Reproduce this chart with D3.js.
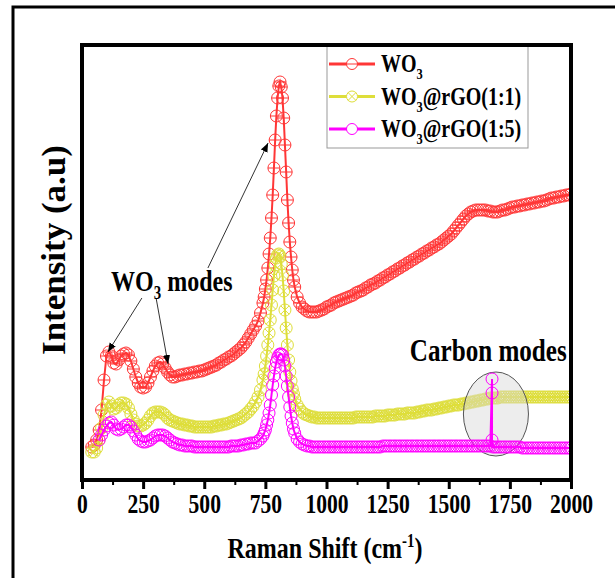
<!DOCTYPE html>
<html><head><meta charset="utf-8">
<script src="https://cdn.jsdelivr.net/npm/d3@7"></script>
<style>html,body{margin:0;padding:0;background:#fff;} svg{display:block}</style>
</head><body><svg id="chart" width="615" height="578"></svg>
<script>
// ---------------- DATA ----------------
const shift = [
  40,50,60,70,80,90,100,110,120,130,140,150,160,170,180,190,200,210,220,230,240,250,260,270,280,290,300,310,320,330,340,350,360,370,380,390,400,
  410,420,430,440,450,460,470,480,490,500,510,520,530,540,550,560,570,580,590,600,610,620,630,640,650,660,670,680,690,700,
  710,720,730,
  740,745,750,755,760,765,770,775,780,785,790,795,800,805,810,815,820,825,830,835,840,845,850,855,860,865,870,
  880,890,900,910,920,930,940,
  950,960,970,980,990,1000,1010,1020,1030,1040,
  1050,1060,1070,1080,1090,1100,1110,1120,1130,1140,
  1150,1160,1170,1180,1190,1200,1210,1220,1230,1240,
  1250,1260,1270,1280,1290,1300,1310,1320,1330,1340,
  1350,1360,1370,1380,1390,1400,1410,1420,1430,1440,
  1450,1460,1470,1480,1490,1500,1510,1520,1530,1540,
  1550,1560,1570,1580,1590,1600,1610,1620,1630,1640,
  1650,1660,1670,1680,1690,1700,1710,1720,1730,1740,
  1750,1760,1770,1780,1790,1800,1810,1820,1830,1840,
  1850,1860,1870,1880,1890,1900,1910,1920,1930,1940,
  1950,1960,1970,1980,1990,2000
];
const wo3 = [
  33,35,40,50,70,100,124,128,124,117,116,120,124,126,127,125,119,111,103,97,93,92,93,97,103,109,114,117,118,116,112,108,105,103,103,104,105,
  105,106,106,107,107,108,108,109,109,110,111,112,113,114,115,117,118,120,121,123,124,126,128,130,132,135,138,142,146,150,
  154,159,167,
  177,183,191,200,212,226,242,262,285,312,340,364,382,394,398,393,382,362,335,308,280,257,238,223,210,200,193,
  183,177,173,171,169,168,168,
  168,168,169,170,171,173,174,175,177,178,
  179,180,181,182,183,184,185,187,188,189,
  190,192,193,195,196,197,199,200,202,203,
  205,206,208,209,211,212,214,215,217,218,
  220,221,223,224,226,227,229,230,232,233,
  235,236,238,240,242,244,246,249,252,255,
  258,261,264,266,268,269,270,270,270,270,
  270,269,269,268,268,268,269,270,270,271,
  272,273,273,274,274,275,275,276,276,277,
  277,278,278,279,279,280,281,282,282,283,
  283,284,284,285,285,286
];
const rgo11 = [
  28,28,32,40,52,65,75,78,74,71,72,75,77,77,76,72,66,60,56,54,54,55,57,60,64,67,68,68,68,67,65,62,60,59,58,57,56,
  56,55,55,54,54,53,53,53,53,53,53,53,53,54,54,55,55,56,56,57,58,59,60,61,62,64,66,68,71,74,
  78,83,90,
  100,106,114,124,135,147,160,175,190,204,215,222,225,226,224,216,205,189,170,152,135,120,108,99,91,86,81,
  75,71,68,66,65,64,63,
  63,62,62,62,62,62,62,62,62,62,
  62,62,62,62,62,62,62,63,63,63,
  63,63,63,63,63,64,64,64,64,64,
  65,65,65,65,66,66,66,66,67,67,
  67,67,68,68,69,69,70,70,70,71,
  71,72,72,73,73,74,74,75,75,75,
  76,76,77,77,78,78,79,79,80,80,
  81,81,82,82,82,82,83,83,83,83,
  83,83,83,83,83,83,83,83,83,83,
  83,83,83,83,83,83,83,83,83,83,
  83,83,83,83,83,83
];
const rgo15 = [
  null,null,null,40,45,50,54,57,58,55,51,50,51,53,55,55,53,49,45,41,39,38,38,39,40,42,44,45,45,45,44,42,40,38,37,36,35,
  35,34,34,34,34,33,33,33,33,33,33,33,33,33,33,33,33,33,33,33,34,34,34,34,35,35,36,36,37,37,
  37,39,41,
  44,47,50,55,60,67,75,85,95,104,112,118,122,125,126,126,125,120,114,104,94,83,73,64,57,51,47,
  41,38,36,35,34,34,33,
  33,33,33,33,33,33,33,33,33,33,
  33,33,33,33,33,33,33,33,33,33,
  33,33,33,33,33,33,33,33,34,34,
  34,34,34,34,34,34,34,34,34,34,
  34,34,34,34,34,34,34,34,34,34,
  34,34,34,34,34,34,34,34,34,34,
  34,34,34,34,34,34,34,34,34,34,
  34,34,34,33,33,33,33,33,33,33,
  33,33,33,33,33,32,32,32,32,32,
  32,32,32,32,32,32,32,32,32,32,
  32,32,32,32,32,32
];
// carbon-mode spike of WO3@rGO(1:5)
const spikeShift = [1677,1677,1677];
const spikeValues = [101,87,40];

const seriesNames = ["WO3","WO3@rGO(1:1)","WO3@rGO(1:5)"];
const xTicks = [0,250,500,750,1000,1250,1500,1750,2000];
const xMinorTicks = [125,375,625,875,1125,1375,1625,1875];

// ---------------- LAYOUT ----------------
const FONT = "'Liberation Serif','Times New Roman',Times,serif";
const K = 0.8; // horizontal text compression
const colors = {red:"#ff3636", yellow:"#dede3a", magenta:"#ff00ff"};
const svg = d3.select("#chart");
const x = d3.scaleLinear().domain([0,2000]).range([82,571]);
const y = d3.scaleLinear().domain([0,435]).range([480,45]);

// outer frame
svg.append("rect").attr("x",13).attr("y",7).attr("width",700).attr("height",700)
  .attr("fill","none").attr("stroke","#000").attr("stroke-width",3);

const defs = svg.append("defs");
defs.append("clipPath").attr("id","plotclip")
  .append("rect").attr("x",82).attr("y",45).attr("width",489).attr("height",435);
defs.append("marker").attr("id","arrow").attr("viewBox","0 0 10 10").attr("refX",10).attr("refY",5)
  .attr("markerWidth",9).attr("markerHeight",9).attr("markerUnits","userSpaceOnUse").attr("orient","auto")
  .append("path").attr("d","M0,1 L10,5 L0,9 Z").attr("fill","#000");

function richText(parent, px, py, size, anchor, parts, rot, k) {
  const kk = k == null ? K : k;
  const t = parent.append("text")
    .attr("transform", `translate(${px},${py}) scale(${kk},1)` + (rot ? ` rotate(${rot})` : ""))
    .attr("text-anchor", anchor)
    .attr("font-family", FONT).attr("font-weight","bold").attr("font-size", size).attr("fill","#000");
  let cur = 0;
  parts.forEach(p => {
    const [str, kind] = Array.isArray(p) ? p : [p, null];
    const target = kind==='sub' ? size*0.28 : kind==='sup' ? -size*0.38 : 0;
    const ts = t.append("tspan").text(str).attr("dy", target - cur);
    if (kind) ts.attr("font-size", size*0.62);
    cur = target;
  });
  return t;
}

function drawMarker(g, kind, color, r, fill) {
  g.append("circle").attr("r", r).attr("fill", fill).attr("stroke", color).attr("stroke-width",1);
  if (kind === "bar") {
    g.append("line").attr("x1",-r).attr("x2",r).attr("stroke",color).attr("stroke-width",1);
  } else if (kind === "cross") {
    const a = r*0.707;
    g.append("line").attr("x1",-a).attr("y1",-a).attr("x2",a).attr("y2",a).attr("stroke",color).attr("stroke-width",1);
    g.append("line").attr("x1",-a).attr("y1",a).attr("x2",a).attr("y2",-a).attr("stroke",color).attr("stroke-width",1);
  }
}

function build(vals) {
  return shift.map((s,i)=>({s, v: vals[i]})).filter(d => d.v != null);
}
const redData = build(wo3);
const yellowData = build(rgo11);
const magBase = build(rgo15);
const spike = spikeShift.map((s,i)=>({s, v: spikeValues[i]}));
const magData = magBase.filter(d=>d.s<=spikeShift[0]).concat(spike, magBase.filter(d=>d.s>spikeShift[0]));

const line = d3.line().x(d=>x(d.s)).y(d=>y(d.v));
const plot = svg.append("g").attr("clip-path","url(#plotclip)");

function drawSeries(data, color, kind) {
  const g = plot.append("g");
  g.append("path").datum(data).attr("d", line).attr("fill","none").attr("stroke", color).attr("stroke-width",2);
  g.selectAll("g.m").data(data).enter().append("g").attr("class","m")
    .attr("transform", d=>`translate(${x(d.s)},${y(d.v)})`)
    .each(function(){ drawMarker(d3.select(this), kind, color, 6, "none"); });
}
drawSeries(redData, colors.red, "bar");
drawSeries(yellowData, colors.yellow, "cross");

// carbon-modes ellipse
const ell = {s:1693, v:66, rs:133, rv:42};
plot.append("ellipse").attr("cx", x(ell.s)).attr("cy", y(ell.v))
  .attr("rx", x(ell.s+ell.rs)-x(ell.s)).attr("ry", y(ell.v)-y(ell.v+ell.rv))
  .attr("fill","rgba(215,215,215,0.45)").attr("stroke","#555").attr("stroke-width",1);

drawSeries(magData, colors.magenta, "plain");

// arrows
const arrows = [[245,182,106,128],[303,182,352,116],[515,212,761,337]];
svg.selectAll("line.arr").data(arrows).enter().append("line").attr("class","arr")
  .attr("x1",d=>x(d[0])).attr("y1",d=>y(d[1])).attr("x2",d=>x(d[2])).attr("y2",d=>y(d[3]))
  .attr("stroke","#333").attr("stroke-width",1).attr("marker-end","url(#arrow)");

// annotations
richText(svg, x(119), y(189), 30, "start", ["WO",["3","sub"]," modes"]);
richText(svg, x(1341), y(119), 31, "start", ["Carbon modes"], null, 0.81);

// legend
svg.append("rect").attr("x",327).attr("y",45).attr("width",201).attr("height",103)
  .attr("fill","#fff").attr("stroke","#999").attr("stroke-width",1);
const legItems = [
  {name:seriesNames[0], color:colors.red, kind:"bar", parts:["WO",["3","sub"]]},
  {name:seriesNames[1], color:colors.yellow, kind:"cross", parts:["WO",["3","sub"],"@rGO(1:1)"]},
  {name:seriesNames[2], color:colors.magenta, kind:"plain", parts:["WO",["3","sub"],"@rGO(1:5)"]}
];
legItems.forEach((it,i)=>{
  const cy = 64 + i*32.5;
  svg.append("line").attr("x1",329).attr("x2",375).attr("y1",cy).attr("y2",cy)
    .attr("stroke",it.color).attr("stroke-width",3);
  const mg = svg.append("g").attr("transform",`translate(352,${cy})`);
  drawMarker(mg, it.kind, it.color, 5.5, "#fff");
  richText(svg, 381, cy+8, 25, "start", it.parts);
});

// plot frame
svg.append("rect").attr("x",82).attr("y",45).attr("width",489).attr("height",435)
  .attr("fill","none").attr("stroke","#000").attr("stroke-width",4);

// x axis
const gx = svg.append("g").attr("transform",`translate(0,${y(0)})`)
  .call(d3.axisBottom(x).tickValues(xTicks).tickSize(9).tickFormat(d3.format("d")));
gx.select(".domain").remove();
gx.selectAll(".tick line").attr("stroke","#000").attr("stroke-width",3);
gx.selectAll(".tick text").attr("y",33).attr("dy",0).attr("transform",`scale(${K},1)`)
  .attr("font-family",FONT).attr("font-weight","bold").attr("font-size",27).attr("fill","#000");
const gm = svg.append("g").attr("transform",`translate(0,${y(0)})`)
  .call(d3.axisBottom(x).tickValues(xMinorTicks).tickSize(5).tickFormat(""));
gm.select(".domain").remove();
gm.selectAll(".tick line").attr("stroke","#000").attr("stroke-width",2);

// axis titles
richText(svg, 325, 558, 30, "middle", ["Raman Shift (cm",["-1","sup"],")"]);
richText(svg, 65, 250, 35, "middle", ["Intensity (a.u)"], -90, 0.95);
</script></body></html>
